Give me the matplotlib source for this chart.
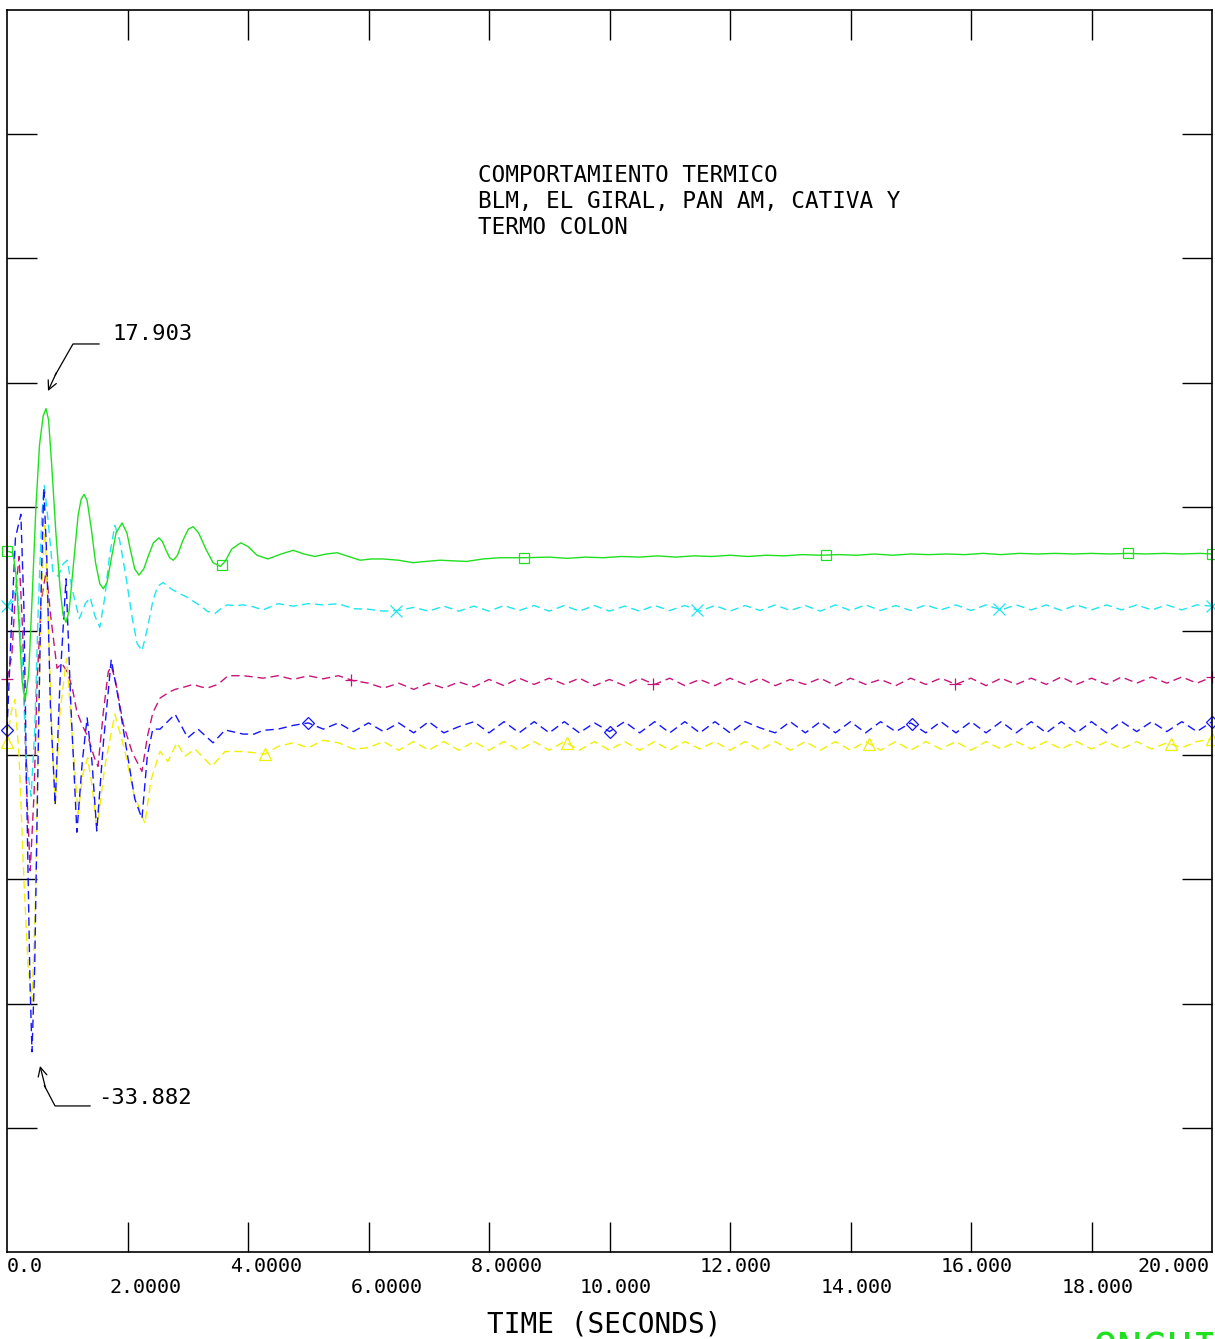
import numpy as np
import matplotlib
matplotlib.use("Agg")
import matplotlib.pyplot as plt

# ---------- DATA (time in s) ----------
GREEN_T = [0.0, 0.10, 0.15, 0.20, 0.25, 0.30, 0.36, 0.42, 0.48, 0.54, 0.60, 0.647,
           0.69, 0.74, 0.81, 0.88, 0.93, 0.98, 1.03, 1.10, 1.18, 1.23, 1.28, 1.33,
           1.40, 1.47, 1.54, 1.60, 1.66, 1.73, 1.81, 1.91, 1.99, 2.05, 2.12, 2.19,
           2.27, 2.35, 2.43, 2.52, 2.58, 2.64, 2.70, 2.76, 2.83, 2.92, 3.01, 3.09,
           3.18, 3.30, 3.42, 3.54, 3.62, 3.73, 3.88, 4.00, 4.15, 4.33, 4.55, 4.75,
           4.93, 5.11, 5.30, 5.48, 5.67, 5.86, 6.05, 6.24, 6.50, 6.74, 6.95, 7.19,
           7.40, 7.63, 7.90, 8.18, 8.58, 9.0, 9.3, 9.6, 9.9, 10.2, 10.5, 10.8, 11.1,
           11.4, 11.7, 12.0, 12.3, 12.6, 12.9, 13.2, 13.5, 13.8, 14.1, 14.4, 14.7,
           15.0, 15.3, 15.6, 15.9, 16.2, 16.5, 16.8, 17.1, 17.4, 17.7, 18.0, 18.3,
           18.6, 18.9, 19.2, 19.5, 19.8, 20.0]
GREEN_V = [6.44, 6.28, 4.5, 0.5, -4.0, -5.6, -3.5, 3.0, 10.0, 15.0, 17.3, 17.903,
           17.0, 13.5, 8.0, 3.5, 1.3, 0.7, 1.6, 5.2, 9.3, 10.6, 11.0, 10.5,
           8.2, 5.5, 3.8, 3.4, 3.9, 5.8, 7.9, 8.7, 7.9, 6.5, 5.0, 4.5,
           5.0, 6.1, 7.1, 7.5, 7.2, 6.5, 5.9, 5.7, 6.1, 7.3, 8.2, 8.4,
           7.9, 6.6, 5.5, 5.2, 5.6, 6.6, 7.1, 6.8, 6.1, 5.8, 6.2, 6.5,
           6.2, 6.0, 6.2, 6.3, 6.0, 5.7, 5.8, 5.8, 5.7, 5.5, 5.6, 5.7,
           5.65, 5.6, 5.8, 5.9, 5.9, 5.95, 5.85, 5.95, 5.9, 6.0, 5.95, 6.05, 5.95,
           6.05, 6.0, 6.1, 6.0, 6.1, 6.05, 6.15, 6.1, 6.15, 6.1, 6.2, 6.1,
           6.2, 6.15, 6.2, 6.15, 6.25, 6.15, 6.25, 6.2, 6.25, 6.2, 6.25, 6.2,
           6.25, 6.2, 6.25, 6.2, 6.25, 6.2]

CYAN_T = [0.0, 0.08, 0.17, 0.25, 0.32, 0.40, 0.46, 0.52, 0.58, 0.62, 0.68, 0.76,
          0.85, 0.93, 1.00, 1.08, 1.20, 1.30, 1.38, 1.46, 1.54, 1.62, 1.70, 1.79,
          1.87, 1.97, 2.08, 2.16, 2.24, 2.33, 2.42, 2.50, 2.59, 2.72, 2.87, 3.00,
          3.12, 3.25, 3.32, 3.45, 3.55, 3.65, 3.80, 3.92, 4.05, 4.25]
CYAN_V = [2.0, 2.6, 3.5, -2.0, -10.5, -13.3, -8.0, 2.0, 9.5, 11.7, 9.0, 4.8,
          4.4, 5.4, 5.7, 3.4, 1.0, 2.2, 2.7, 1.2, 0.3, 2.6, 6.0, 8.5,
          7.3, 4.5, 1.0, -1.0, -1.6, 0.2, 2.4, 3.6, 3.9, 3.4, 3.0, 2.7,
          2.3, 1.9, 1.6, 1.4, 1.8, 2.1, 2.05, 2.1, 2.0, 1.7]

MAGENTA_T = [0.0, 0.08, 0.14, 0.20, 0.26, 0.32, 0.385, 0.45, 0.50, 0.57, 0.65, 0.73,
             0.83, 0.91, 1.00, 1.08, 1.16, 1.25, 1.35, 1.45, 1.51, 1.60, 1.68, 1.73,
             1.80, 1.93, 2.08, 2.24, 2.33, 2.42, 2.54, 2.70, 2.79, 2.95, 3.09, 3.22,
             3.32, 3.50, 3.67, 3.92, 4.10, 4.25]
MAGENTA_V = [-3.9, -2.0, 3.0, 6.0, 0.0, -12.0, -19.3, -13.0, -4.0, 2.5, 4.8, 1.0,
             -3.0, -2.6, -3.3, -4.5, -6.5, -7.6, -8.6, -10.2, -10.9, -6.5, -3.3, -2.8,
             -4.0, -7.5, -9.8, -11.3, -8.5, -6.6, -5.4, -4.9, -4.7, -4.5, -4.3, -4.5,
             -4.6, -4.3, -3.6, -3.6, -3.7, -3.8]

BLUE_T = [0.0, 0.07, 0.14, 0.23, 0.28, 0.33, 0.38, 0.415, 0.46, 0.51, 0.56, 0.61,
          0.66, 0.72, 0.80, 0.88, 0.98, 1.06, 1.16, 1.25, 1.33, 1.41, 1.49, 1.60,
          1.73, 1.85, 2.00, 2.12, 2.24, 2.33, 2.42, 2.54, 2.79, 3.00, 3.17, 3.42,
          3.62, 3.92, 4.10, 4.25]
BLUE_V = [-8.0, 0.0, 7.5, 9.4, 2.0, -14.0, -28.0, -33.882, -27.0, -12.0, 2.0, 11.5,
          6.0, -6.0, -14.0, -4.0, 4.2, -6.0, -16.2, -10.5, -7.0, -10.5, -16.1, -9.0,
          -2.3, -5.5, -10.0, -13.5, -15.1, -10.0, -7.9, -7.9, -6.7, -8.6, -7.9, -9.0,
          -7.97, -8.3, -8.3, -8.0]

YELLOW_T = [0.0, 0.07, 0.13, 0.20, 0.28, 0.35, 0.415, 0.47, 0.52, 0.58, 0.63, 0.69,
            0.75, 0.80, 0.88, 0.99, 1.09, 1.18, 1.26, 1.34, 1.42, 1.49, 1.62, 1.79,
            1.95, 2.10, 2.29, 2.39, 2.54, 2.67, 2.82, 2.95, 3.12, 3.40, 3.62, 3.92,
            4.10, 4.28]
YELLOW_V = [-8.9, -6.5, -5.5, -10.0, -20.0, -27.0, -29.8, -22.0, -8.0, 4.0, 8.5, 0.0,
            -9.0, -13.9, -6.5, -2.2, -9.0, -14.7, -11.5, -10.2, -12.8, -16.1, -11.0, -6.7,
            -9.5, -13.0, -15.5, -12.0, -9.7, -10.5, -9.0, -10.1, -9.5, -10.9, -9.7, -9.7,
            -9.8, -9.9]

# steady-state part, sampled every 0.25 s from 4.5 s to 20 s
SS_T = np.arange(4.5, 20.001, 0.25)
CYAN_SS = [2.2, 2.0, 2.2, 2.1, 2.2, 1.8, 1.75, 1.6, 1.65,
           1.9, 1.6, 2.0, 1.6, 2.0, 1.6, 2.05, 1.65, 2.05,
           1.6, 2.05, 1.6, 2.05, 1.6, 2.0, 1.6, 2.05, 1.65,
           2.05, 1.6, 2.05, 1.6, 2.05, 1.65, 2.1, 1.65, 2.05,
           1.6, 2.1, 1.65, 2.1, 1.65, 2.05, 1.65, 2.1, 1.7,
           2.1, 1.65, 2.1, 1.7, 2.1, 1.7, 2.1, 1.65, 2.1,
           1.7, 2.1, 1.7, 2.1, 1.7, 2.1, 1.7, 2.1, 2.0]
MAGENTA_SS = [-3.6, -3.9, -3.6, -3.85, -3.6, -4.0, -4.2, -4.6, -4.2,
              -4.7, -4.2, -4.6, -4.1, -4.5, -3.9, -4.4, -3.8, -4.3,
              -3.8, -4.3, -3.8, -4.4, -3.9, -4.4, -3.8, -4.3, -3.8,
              -4.4, -3.9, -4.4, -3.8, -4.3, -3.8, -4.4, -3.9, -4.3,
              -3.8, -4.4, -3.8, -4.3, -3.9, -4.4, -3.8, -4.3, -3.8,
              -4.3, -3.8, -4.4, -3.8, -4.3, -3.8, -4.3, -3.7, -4.3,
              -3.8, -4.3, -3.7, -4.2, -3.7, -4.2, -3.7, -4.2, -3.7]
BLUE_SS = [-7.9, -7.6, -7.4, -7.9, -7.4, -8.1, -7.4, -8.1, -7.4,
           -8.2, -7.3, -8.2, -7.7, -7.3, -8.2, -7.3, -8.2, -7.3,
           -8.2, -7.3, -8.2, -7.4, -8.1, -7.3, -8.2, -7.3, -8.2,
           -7.3, -8.2, -7.3, -8.2, -7.3, -7.8, -8.2, -7.3, -8.2,
           -7.3, -8.2, -7.3, -8.2, -7.3, -8.1, -7.4, -8.2, -7.3,
           -8.2, -7.3, -8.2, -7.3, -8.2, -7.3, -8.2, -7.3, -8.2,
           -7.3, -8.2, -7.3, -8.1, -7.3, -8.1, -7.3, -8.1, -7.3]
YELLOW_SS = [-9.3, -9.0, -9.4, -8.8, -9.0, -9.5, -9.4, -8.9, -9.6,
             -8.9, -9.6, -8.9, -9.6, -8.9, -9.6, -8.9, -9.6, -8.9,
             -9.6, -8.9, -9.6, -8.9, -9.6, -8.9, -9.6, -8.9, -9.6,
             -8.9, -9.5, -8.9, -9.6, -8.9, -9.6, -8.9, -9.6, -8.9,
             -9.6, -8.9, -9.6, -8.9, -9.6, -8.9, -9.6, -8.9, -9.5,
             -8.9, -9.6, -8.9, -9.5, -8.9, -9.5, -8.9, -9.5, -8.9,
             -9.5, -8.9, -9.5, -8.9, -9.5, -9.0, -9.4, -8.9, -8.7]

GREEN_MK = [0.0, 3.57, 8.58, 13.59, 18.61, 20.0]
CYAN_MK = [0.0, 6.46, 11.45, 16.46, 20.0]
MAGENTA_MK = [0.0, 5.71, 10.72, 15.73, 20.0]
BLUE_MK = [0.0, 5.0, 10.0, 15.02, 20.0]
YELLOW_MK = [0.0, 4.28, 9.29, 14.31, 19.32, 20.0]

XTICK_VALUES = [0, 2, 4, 6, 8, 10, 12, 14, 16, 18, 20]
XTICK_LABELS = ["0.0", "2.0000", "4.0000", "6.0000", "8.0000", "10.000",
                "12.000", "14.000", "16.000", "18.000", "20.000"]
TITLE_LINES = ["COMPORTAMIENTO TERMICO", "BLM, EL GIRAL, PAN AM, CATIVA Y", "TERMO COLON"]

MONO = "DejaVu Sans Mono"
W, H = 1215, 1339

fig = plt.figure(figsize=(W / 100, H / 100), dpi=100)
ax = fig.add_axes([7 / W, 87 / H, 1205 / W, 1242 / H])
ax.set_xlim(0, 20)
ax.set_ylim(-50, 50)

dash = (6, 3.5)
series = [
    (MAGENTA_T, MAGENTA_V, MAGENTA_SS, MAGENTA_MK, "#c8147a", "+", dash),
    (CYAN_T, CYAN_V, CYAN_SS, CYAN_MK, "#1ee6f0", "x", dash),
    (YELLOW_T, YELLOW_V, YELLOW_SS, YELLOW_MK, "#f0f000", "^", dash),
    (BLUE_T, BLUE_V, BLUE_SS, BLUE_MK, "#1414ff", "D", dash),
]
for t, v, ss, mk, col, m, ds in series:
    tt = np.concatenate([t, SS_T])
    vv = np.concatenate([v, ss])
    ax.plot(tt, vv, color=col, lw=1.0, dashes=ds)
    ax.plot(mk, np.interp(mk, tt, vv), ls="none", marker=m, ms=8 if m != "D" else 6,
            mew=0.9, mfc="none", mec=col, clip_on=False)

ax.plot(GREEN_T, GREEN_V, color="#1fe01f", lw=1.0)
ax.plot(GREEN_MK, np.interp(GREEN_MK, GREEN_T, GREEN_V), ls="none", marker="s", ms=7.5,
        mew=0.9, mfc="none", mec="#1fe01f", clip_on=False)

# frame and ticks
for s in ax.spines.values():
    s.set_linewidth(1.2)
    s.set_color("black")
ax.set_xticks(XTICK_VALUES[1:-1])
ax.set_yticks([-40, -30, -20, -10, 0, 10, 20, 30, 40])
ax.tick_params(direction="in", length=21.6, width=1.0, color="black",
               top=True, right=True, labelbottom=False, labelleft=False)

# x tick labels, decimal point lined up with the tick, two rows
char_pt = 0.602 * 14.4
for i, (x, lab) in enumerate(zip(XTICK_VALUES, XTICK_LABELS)):
    dy = -10.1 if i % 2 == 0 else -25.9
    if i == 0:
        dx, ha = 0, "left"
    elif i == len(XTICK_VALUES) - 1:
        dx, ha = -1.5, "right"
    else:
        dx, ha = -(lab.index(".") + 0.5) * char_pt, "left"
    ax.annotate(lab, xy=(x, 0), xycoords=("data", "axes fraction"), xytext=(dx, dy),
                textcoords="offset points", ha=ha, va="center", family=MONO,
                fontsize=14.4, color="black", annotation_clip=False)

fig.text(604 / W, 1 - 1324 / H, "TIME (SECONDS)", family=MONO, fontsize=20,
         ha="center", va="center", color="black")
fig.text(1093 / W, 1 - 1331 / H, "ONGUI", family=MONO, fontsize=30,
         ha="left", va="top", color="#1fe01f")

for k, line in enumerate(TITLE_LINES):
    fig.text(478 / W, 1 - (175 + 26.5 * k) / H, line, family=MONO, fontsize=16.3,
             ha="left", va="center", color="black")

# max / min callouts
ax.plot([1.527, 1.095, 0.80], [23.11, 23.11, 20.6], color="black", lw=0.9)
ax.annotate("", xy=(0.68, 19.32), xytext=(0.82, 20.8),
            arrowprops=dict(arrowstyle="->", lw=0.9, color="black",
                            mutation_scale=16, shrinkA=0, shrinkB=0))
ax.text(1.743, 23.91, "17.903", family=MONO, fontsize=16, ha="left", va="center")

ax.plot([1.378, 0.797, 0.62], [-38.24, -38.24, -36.6], color="black", lw=0.9)
ax.annotate("", xy=(0.548, -35.02), xytext=(0.64, -36.8),
            arrowprops=dict(arrowstyle="->", lw=0.9, color="black",
                            mutation_scale=16, shrinkA=0, shrinkB=0))
ax.text(1.51, -37.60, "-33.882", family=MONO, fontsize=16, ha="left", va="center")

fig.savefig("out.png", dpi=100)
